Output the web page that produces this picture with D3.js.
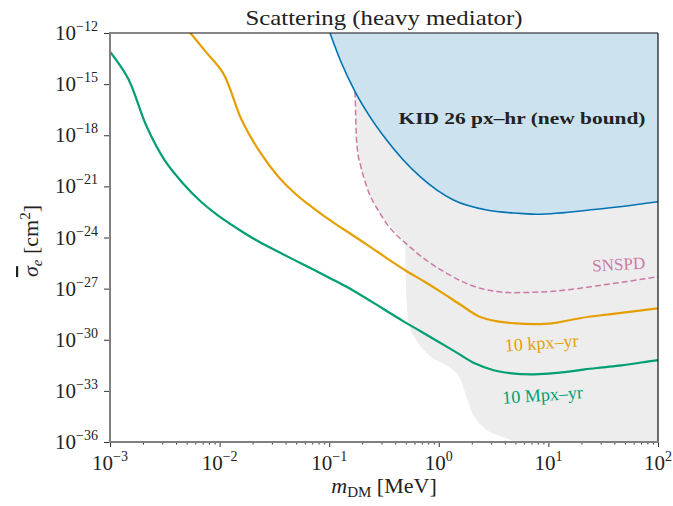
<!DOCTYPE html>
<html lang="en">
<head>
  <meta charset="UTF-8">
  <title>Scattering (heavy mediator)</title>
  <style>
    body { margin: 0; padding: 0; background: #fff; }
    svg { display: block; }
    text { font-family: "Liberation Serif", "DejaVu Serif", serif; fill: #222; }
    .tick-label { font-size: 21px; }
  </style>
</head>
<body>
  <div id="chart"></div>
  <script src="https://d3js.org/d3.v7.min.js"></script>
  <script>
    // axis ticks (decade exponents)
    const xTickExps = [-3, -2, -1, 0, 1, 2];
    const yTickExps = [-12, -15, -18, -21, -24, -27, -30, -33, -36];

    // KID 26 px-hr (new bound), m in MeV, sigma in cm^2
    const kidMass = [0.1016, 0.126, 0.172, 0.235, 0.334, 0.474, 0.675, 0.955, 1.36, 2.74, 5.5, 7.8, 27.5, 100];
    const kidSigma = [1e-12, 2.6e-14, 3.6e-16, 1.23e-17, 5.2e-19, 3.5e-20, 3.7e-21, 6.2e-22, 1.6e-22, 4.1e-23, 2.6e-23, 2.3e-23, 4.5e-23, 1.26e-22];

    // SNSPD (dashed)
    const snspdMass = [0.172, 0.174, 0.176, 0.181, 0.193, 0.22, 0.291, 0.585, 1.18, 2.38, 4.79, 9.6, 38.9, 100];
    const snspdSigma = [3.6e-16, 3.0e-17, 2.0e-18, 1.35e-19, 1.8e-20, 9.5e-22, 2.6e-23, 1.9e-25, 7.9e-27, 1.05e-27, 5.8e-28, 6.6e-28, 2.0e-27, 5.0e-27];

    // 10 kpx-yr projection (sigma given as log10 of cm^2)
    const kpxMass = [5.02e-3, 7.36e-3, 1.08e-2, 1.59e-2, 2.33e-2, 3.42e-2, 5.02e-2, 7.36e-2, 0.108, 0.159, 0.233, 0.342, 0.502, 0.736,
      1.08, 1.59, 2.33, 3.42, 5.02, 7.36, 10.8, 15.9, 23.3, 34.2, 50.2, 73.6, 100];
    const kpxLogSigma = [-11.74, -13.05, -14.37, -17.11, -18.98, -20.42, -21.49, -22.33, -23.10, -23.81, -24.52, -25.25, -25.95, -26.58,
      -27.25, -27.96, -28.63, -28.92, -29.04, -29.08, -29.04, -28.84, -28.65, -28.53, -28.39, -28.26, -28.16];

    // 10 Mpx-yr projection (sigma given as log10 of cm^2)
    const mpxMass = [1.00e-3, 1.47e-3, 2.15e-3, 3.16e-3, 4.64e-3, 6.81e-3, 1.00e-2, 1.47e-2, 2.15e-2, 3.16e-2, 4.64e-2, 6.81e-2,
      0.100, 0.147, 0.215, 0.316, 0.464, 0.681, 1.00, 1.47, 2.15, 3.16, 4.64, 6.81, 10.0, 14.7, 21.5, 31.6, 46.4, 68.1, 100];
    const mpxLogSigma = [-13.10, -14.70, -17.46, -19.48, -20.83, -21.92, -22.78, -23.50, -24.15, -24.72, -25.27, -25.81,
      -26.36, -26.92, -27.55, -28.21, -28.88, -29.50, -30.13, -30.77, -31.40, -31.79, -31.97, -32.03, -31.99, -31.89, -31.74, -31.62, -31.50, -31.35, -31.19];

    // existing constraints (grey region, lower-left edge)
    const greyMass = [0.172, 0.174, 0.176, 0.181, 0.193, 0.22, 0.291, 0.40, 0.491, 0.507, 0.535, 0.607, 0.832, 1.32, 1.56, 1.73, 1.93, 2.48, 3.85, 5.74, 20, 100];
    const greySigma = [3.6e-16, 3.0e-17, 2.0e-18, 1.35e-19, 1.8e-20, 9.5e-22, 2.6e-23, 2.4e-24, 3.6e-25, 2.1e-28, 7.2e-30, 1.26e-30, 1.1e-31, 1.9e-32, 5.6e-33, 8.5e-34, 1.0e-34, 8.7e-36, 1.95e-36, 1e-36, 1e-36, 1e-36];

    const W = 673, H = 506;
    const margin = { left: 110, right: 15, top: 33, bottom: 64 };

    const svg = d3.select("#chart").append("svg")
      .attr("width", W)
      .attr("height", H);

    const x = d3.scaleLog().domain([1e-3, 1e2]).range([margin.left, W - margin.right]);
    const y = d3.scaleLog().domain([1e-36, 1e-12]).range([H - margin.bottom, margin.top]);

    svg.append("clipPath").attr("id", "plot-clip")
      .append("rect")
      .attr("x", x.range()[0]).attr("y", y.range()[1])
      .attr("width", x.range()[1] - x.range()[0])
      .attr("height", y.range()[0] - y.range()[1]);

    const plot = svg.append("g").attr("clip-path", "url(#plot-clip)");

    const zip = (ms, ss) => ms.map((m, i) => [m, ss[i]]);
    const zipLog = (ms, ls) => ms.map((m, i) => [m, Math.pow(10, ls[i])]);

    // grey region
    const greyArea = d3.area()
      .x(d => x(d[0]))
      .y0(d => y(d[1]))
      .y1(y(1e-12))
      .curve(d3.curveMonotoneX);
    plot.append("path")
      .datum(zip(greyMass, greySigma))
      .attr("d", greyArea)
      .attr("fill", "#ededed");

    // KID fill
    const kidArea = d3.area()
      .x(d => x(d[0]))
      .y0(d => y(d[1]))
      .y1(y(1e-12))
      .curve(d3.curveMonotoneX);
    plot.append("path")
      .datum(zip(kidMass, kidSigma))
      .attr("d", kidArea)
      .attr("fill", "#cce2ef");

    const smooth = d3.line()
      .x(d => x(d[0]))
      .y(d => y(d[1]))
      .curve(d3.curveMonotoneX);
    const spline = d3.line()
      .x(d => x(d[0]))
      .y(d => y(d[1]))
      .curve(d3.curveCatmullRom.alpha(0.5));

    plot.append("path")
      .datum(zip(snspdMass, snspdSigma))
      .attr("d", smooth)
      .attr("fill", "none")
      .attr("stroke", "#cc79a7")
      .attr("stroke-width", 1.5)
      .attr("stroke-dasharray", "6,3");

    plot.append("path")
      .datum(zip(kidMass, kidSigma))
      .attr("d", smooth)
      .attr("fill", "none")
      .attr("stroke", "#0072b2")
      .attr("stroke-width", 1.6);

    plot.append("path")
      .datum(zipLog(kpxMass, kpxLogSigma))
      .attr("d", spline)
      .attr("fill", "none")
      .attr("stroke", "#e69f00")
      .attr("stroke-width", 2.2)
      .attr("stroke-linejoin", "round");

    plot.append("path")
      .datum(zipLog(mpxMass, mpxLogSigma))
      .attr("d", spline)
      .attr("fill", "none")
      .attr("stroke", "#009e73")
      .attr("stroke-width", 2.2)
      .attr("stroke-linejoin", "round");

    // spines
    const x0 = x.range()[0], x1 = x.range()[1], yb = y.range()[0], yt = y.range()[1];
    svg.append("line").attr("x1", x0).attr("x2", x1).attr("y1", yt).attr("y2", yt)
      .attr("stroke", "#111").attr("stroke-width", 1.2);
    svg.append("line").attr("x1", x1).attr("x2", x1).attr("y1", yt).attr("y2", yb)
      .attr("stroke", "#111").attr("stroke-width", 1.2);

    // ticks
    const majorX = xTickExps.map(e => Math.pow(10, e));
    const minorX = [];
    xTickExps.slice(0, -1).forEach(e => {
      for (let k = 2; k <= 9; k++) minorX.push(k * Math.pow(10, e));
    });
    const majorY = yTickExps.map(e => Math.pow(10, e));

    const xAxis = svg.append("g").attr("transform", `translate(0,${yb})`);
    xAxis.call(d3.axisBottom(x).tickValues(majorX).tickSize(5).tickFormat(""));
    xAxis.append("g").call(d3.axisBottom(x).tickValues(minorX).tickSize(2.5).tickFormat(""));
    xAxis.selectAll(".tick line").attr("stroke", "#333");
    xAxis.selectAll(".domain").remove();

    const yAxis = svg.append("g").attr("transform", `translate(${x0},0)`);
    yAxis.call(d3.axisLeft(y).tickValues(majorY).tickSize(6).tickFormat(""));
    yAxis.selectAll(".tick line").attr("stroke", "#333");
    yAxis.selectAll(".domain").remove();

    svg.append("line").attr("x1", x0).attr("x2", x1 + 1).attr("y1", yb).attr("y2", yb)
      .attr("stroke", "#808080").attr("stroke-width", 2);
    svg.append("line").attr("x1", x0).attr("x2", x0).attr("y1", yt - 1).attr("y2", yb + 1)
      .attr("stroke", "#808080").attr("stroke-width", 2);

    // tick labels
    const powLabel = (sel, e) => {
      sel.append("tspan").text("10");
      sel.append("tspan").attr("dy", -9).attr("font-size", 14).text(e < 0 ? "\u2212" + Math.abs(e) : e);
    };
    xTickExps.forEach(e => {
      const t = svg.append("text").attr("class", "tick-label")
        .attr("x", x(Math.pow(10, e))).attr("y", 470)
        .attr("text-anchor", "middle");
      powLabel(t, e);
    });
    yTickExps.forEach(e => {
      const t = svg.append("text").attr("class", "tick-label")
        .attr("x", 98).attr("y", y(Math.pow(10, e)) + 7)
        .attr("text-anchor", "end");
      powLabel(t, e);
    });

    // title and axis labels
    svg.append("text")
      .attr("x", (x0 + x1) / 2).attr("y", 25)
      .attr("text-anchor", "middle")
      .attr("font-size", 21)
      .attr("textLength", 277).attr("lengthAdjust", "spacingAndGlyphs")
      .text("Scattering (heavy mediator)");

    const xl = svg.append("text")
      .attr("x", (x0 + x1) / 2).attr("y", 493)
      .attr("text-anchor", "middle")
      .attr("font-size", 22);
    xl.append("tspan").attr("font-style", "italic").text("m");
    xl.append("tspan").attr("dy", 4).attr("font-size", 15).text("DM");
    xl.append("tspan").attr("dy", -4).text(" [MeV]");

    const yl = svg.append("text")
      .attr("transform", `translate(38,241) rotate(-90)`)
      .attr("text-anchor", "middle")
      .attr("font-size", 22);
    yl.append("tspan").attr("font-style", "italic")
      .style("text-decoration", "overline").text("\u03c3");
    yl.append("tspan").attr("dy", 4).attr("font-size", 15).attr("font-style", "italic").text("e");
    yl.append("tspan").attr("dy", -4).text(" [cm");
    yl.append("tspan").attr("dy", -8).attr("font-size", 15).text("2");
    yl.append("tspan").attr("dy", 8).text("]");

    // in-plot labels
    svg.append("text")
      .attr("x", 522).attr("y", 124)
      .attr("text-anchor", "middle")
      .attr("font-size", 17).attr("font-weight", "bold")
      .attr("textLength", 247).attr("lengthAdjust", "spacingAndGlyphs")
      .text("KID 26 px\u2013hr (new bound)");

    svg.append("text")
      .attr("transform", "translate(619,270) rotate(-3)")
      .attr("text-anchor", "middle")
      .attr("font-size", 17)
      .style("fill", "#cc79a7")
      .text("SNSPD");

    svg.append("text")
      .attr("transform", "translate(542,349) rotate(-4)")
      .attr("text-anchor", "middle")
      .attr("font-size", 18)
      .style("fill", "#e69f00")
      .text("10 kpx\u2013yr");

    svg.append("text")
      .attr("transform", "translate(543,401) rotate(-4)")
      .attr("text-anchor", "middle")
      .attr("font-size", 18)
      .style("fill", "#009e73")
      .text("10 Mpx\u2013yr");
  </script>
</body>
</html>
